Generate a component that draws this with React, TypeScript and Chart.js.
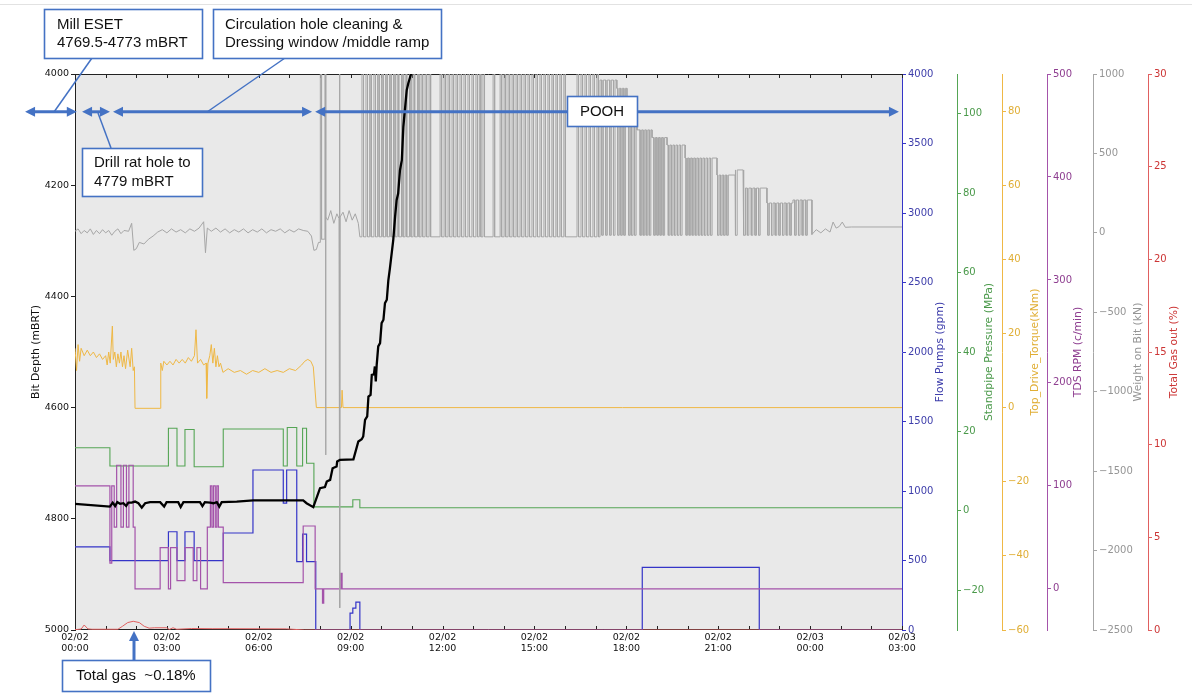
import React, { useEffect, useRef } from 'react';
import { Chart, registerables } from 'chart.js';
Chart.register(...registerables);

// ---------------- axis ticks ----------------
const xTickHours = [0, 3, 6, 9, 12, 15, 18, 21, 24, 27];
const xTickLabels = ['02/02\n00:00', '02/02\n03:00', '02/02\n06:00', '02/02\n09:00', '02/02\n12:00', '02/02\n15:00', '02/02\n18:00', '02/02\n21:00', '02/03\n00:00', '02/03\n03:00'];
const hourTicks = [0, 1, 2, 3, 4, 5, 6, 7, 8, 9, 10, 11, 12, 13, 14, 15, 16, 17, 18, 19, 20, 21, 22, 23, 24, 25, 26, 27];
const depthTicks = [4000, 4200, 4400, 4600, 4800, 5000];
const flowTicks = [0, 500, 1000, 1500, 2000, 2500, 3000, 3500, 4000];
const sppTicks = [-20, 0, 20, 40, 60, 80, 100];
const torqueTicks = [-60, -40, -20, 0, 20, 40, 60, 80];
const rpmTicks = [0, 100, 200, 300, 400, 500];
const wobTicks = [-2500, -2000, -1500, -1000, -500, 0, 500, 1000];
const gasTicks = [0, 5, 10, 15, 20, 25, 30];

// ---------------- series (x = hours after 02/02 00:00) ----------------
const depthT = [0, 1.14, 1.23, 1.31, 1.38, 1.47, 1.58, 1.67, 1.74, 1.85, 1.96, 2.07, 2.18, 2.29, 2.45, 2.78, 2.91, 2.99, 3.37, 3.45, 3.54, 4.08, 4.16, 4.24, 4.41, 4.52, 4.63, 4.71, 4.79, 5.28, 5.82, 7.45, 7.56, 7.78, 8.0, 8.16, 8.22, 8.33, 8.41, 8.54, 8.56, 8.65, 9.09, 9.25, 9.36, 9.41, 9.47, 9.54, 9.58, 9.65, 9.69, 9.76, 9.79, 9.82, 9.85, 9.9, 9.96, 10.01, 10.07, 10.12, 10.18, 10.23, 10.28, 10.39, 10.45, 10.5, 10.55, 10.61, 10.67, 10.72, 10.77, 10.83, 10.88, 10.97, 11.1];
const depthV = [4773, 4778, 4771, 4777, 4770, 4773, 4772, 4777, 4771, 4771, 4769, 4772, 4780, 4772, 4770, 4770, 4778, 4770, 4770, 4779, 4770, 4770, 4777, 4770, 4771, 4772, 4770, 4778, 4770, 4769, 4767, 4767, 4772, 4779, 4745, 4743, 4733, 4730, 4709, 4706, 4697, 4694, 4693, 4661, 4657, 4652, 4622, 4616, 4580, 4577, 4541, 4540, 4526, 4553, 4523, 4490, 4484, 4448, 4442, 4412, 4406, 4371, 4350, 4299, 4257, 4227, 4215, 4173, 4155, 4095, 4065, 4029, 4017, 4000, 3975];

const flowT = [0, 1.14, 3.05, 3.33, 3.59, 3.89, 4.84, 5.81, 6.8, 6.91, 7.24, 7.43, 7.56, 7.86, 8.98, 9.07, 9.17, 9.3, 18.52, 22.34, 27];
const flowV = [598, 499, 707, 499, 707, 499, 698, 1151, 913, 1151, 492, 690, 492, 0, 122, 158, 200, 0, 451, 0, 0];

const sppT = [0, 1.14, 3.05, 3.33, 3.59, 3.89, 4.84, 6.8, 6.93, 7.24, 7.43, 7.56, 7.8, 9.07, 9.3, 27];
const sppV = [15.9, 11.3, 20.8, 11.3, 20.5, 11.1, 20.6, 11.3, 21.0, 11.3, 20.8, 12.0, 1.0, 2.8, 0.8, 0.8];

const torqueT = [0, 0.05, 0.1, 0.15, 0.2, 0.3, 0.4, 0.5, 0.6, 0.7, 0.8, 0.9, 1.0, 1.05, 1.1, 1.15, 1.22, 1.25, 1.3, 1.35, 1.4, 1.45, 1.5, 1.55, 1.6, 1.65, 1.72, 1.8, 1.85, 1.9, 1.94, 1.96, 2.78, 2.8, 2.85, 2.9, 3.0, 3.1, 3.2, 3.3, 3.4, 3.5, 3.6, 3.7, 3.8, 3.9, 3.95, 4.0, 4.1, 4.2, 4.28, 4.3, 4.34, 4.4, 4.45, 4.5, 4.55, 4.6, 4.65, 4.7, 4.75, 4.83, 5.0, 5.2, 5.4, 5.6, 5.8, 6.0, 6.2, 6.4, 6.6, 6.8, 7.0, 7.2, 7.4, 7.5, 7.6, 7.7, 7.78, 7.88, 8.7, 8.72, 8.75, 27];
const torqueV = [16, 10, 17, 12.5, 16, 14, 15.5, 14, 15, 13.5, 14.5, 13, 14, 11.5, 15, 12, 22, 13, 15, 11, 14.5, 12, 15, 11, 14, 10.5, 15.5, 11, 16, 10, 11, -0.2, -0.2, 12, 10, 12.5, 11.5, 12.5, 11.5, 13, 12, 13, 12, 13.5, 12.5, 14, 21, 12, 13, 11.5, 12, 2.5, 12, 14, 17, 12, 16, 11, 14, 11, 12, 9.5, 10.5, 9.5, 10, 9, 10, 9.5, 10.5, 9.5, 10, 9.5, 10.5, 10, 11.5, 12.5, 13, 12.5, 11, 0, 0, 4.7, 0, 0];

const rpmT = [0, 1.14, 1.2, 1.28, 1.36, 1.5, 1.58, 1.68, 1.76, 1.9, 1.96, 2.78, 3.05, 3.12, 3.33, 3.59, 3.86, 3.98, 4.1, 4.32, 4.42, 4.47, 4.52, 4.58, 4.63, 4.68, 4.84, 7.45, 7.84, 8.08, 8.12, 8.68, 8.72, 27];
const rpmV = [100, 25, 100, 60, 120, 60, 120, 60, 120, 60, 0, 40, 0, 40, 8, 40, 8, 40, 0, 60, 100, 60, 100, 60, 100, 60, 6, 61, 0, -14, 0, 15, 0, 0];

// Weight on bit: sampled trace up to 9.3 h
const wobT = [0, 0.1, 0.2, 0.3, 0.4, 0.5, 0.6, 0.7, 0.8, 0.9, 1.0, 1.1, 1.2, 1.3, 1.4, 1.5, 1.6, 1.75, 1.85, 1.92, 2.0, 2.1, 2.25, 2.4, 2.55, 2.7, 2.85, 3.0, 3.15, 3.3, 3.45, 3.6, 3.75, 3.9, 4.05, 4.2, 4.26, 4.32, 4.45, 4.6, 4.75, 4.9, 5.05, 5.2, 5.35, 5.5, 5.65, 5.8, 5.95, 6.1, 6.25, 6.4, 6.55, 6.7, 6.85, 7.0, 7.15, 7.3, 7.45, 7.6, 7.72, 7.8, 7.88, 7.95, 8.0, 8.01, 8.04, 8.05, 8.15, 8.16, 8.18, 8.185, 8.19, 8.25, 8.35, 8.45, 8.55, 8.62, 8.63, 8.645, 8.65, 8.655, 8.75, 8.85, 8.95, 9.05, 9.15, 9.25, 9.3];
const wobV = [10, 25, -5, 15, 0, 25, -10, 15, -5, 20, 0, 15, -15, 10, 25, -5, 15, 10, 60, -110, -100, -60, -70, -40, -20, 5, 20, 0, 25, 5, 20, 0, 25, 10, 30, 70, -125, 30, 10, 30, 5, 25, 0, 20, 5, 25, 0, 20, 5, 25, 0, 20, 10, 25, 0, 20, 5, 25, 15, 10, -20, -110, -105, -60, -60, 1100, 1100, -40, -40, 1100, 1100, -1398, 100, 80, 140, 60, 120, 90, 1100, 1100, -2361, 100, 130, 70, 140, 80, 120, 60, -25];
// tripping section: level the trace rests at, and level of its short excursions
const wobSegT = [9.3, 17.14, 17.69, 18.02, 18.35, 18.84, 19.33, 19.92, 20.96, 21.55, 21.81, 22.59, 23.44];
const wobRestV = [-25, 962, 910, 723, 648, 600, 553, 471, 364, 396, 282, 188, 207];
const wobPeakV = [1100, -15, -15, -15, -15, -15, -15, -15, -15, -15, -15, -15, -15];
const wobPulseT = [9.37, 9.5, 9.62, 9.76, 9.88, 10.01, 10.14, 10.27, 10.4, 10.52, 10.66, 10.78, 10.92, 11.04, 11.18, 11.3, 11.43, 11.56, 11.92, 12.05, 12.18, 12.31, 12.44, 12.57, 12.7, 12.83, 12.96, 13.09, 13.2, 13.32, 13.65, 13.88, 14.01, 14.14, 14.27, 14.4, 14.53, 14.66, 14.79, 14.92, 15.05, 15.18, 15.31, 15.44, 15.57, 15.7, 15.83, 15.96, 16.39, 16.52, 16.65, 16.78, 16.91, 17.04, 17.2, 17.33, 17.46, 17.58, 17.72, 17.82, 17.92, 18.08, 18.17, 18.27, 18.45, 18.55, 18.65, 18.75, 18.9, 19.0, 19.1, 19.2, 19.37, 19.47, 19.57, 19.67, 19.77, 19.95, 20.05, 20.15, 20.25, 20.35, 20.45, 20.55, 20.65, 20.75, 20.98, 21.08, 21.18, 21.28, 21.57, 21.84, 21.95, 22.08, 22.2, 22.32, 22.62, 22.74, 22.86, 22.98, 23.1, 23.22, 23.34, 23.5, 23.62, 23.74, 23.86];
const wobPulseW = 0.05;
const wobTailT = [24.06, 24.2, 24.35, 24.5, 24.65, 24.75, 24.85, 24.95, 25.05, 25.15, 25.35, 27];
const wobTailV = [-10, 20, 0, 25, 5, 68, 30, 40, 68, 35, 37, 37];

const gasT = [0, 0.2, 0.3, 0.42, 0.55, 1.4, 1.55, 1.72, 1.9, 2.1, 2.26, 2.42, 2.6, 3.0, 3.08, 3.2, 3.32, 3.8, 4.5, 5.0, 6.9, 7.5, 27];
const gasV = [0.02, 0.05, 0.27, 0.06, 0.04, 0.04, 0.2, 0.4, 0.47, 0.4, 0.2, 0.1, 0.12, 0.12, 0.03, 0.12, 0.04, 0.08, 0.07, 0.07, 0.06, 0, 0];

// ---------------- build helpers ----------------
const pts = (t: number[], v: number[]) => t.map((x, i) => ({ x, y: v[i] }));

function buildWob() {
  const out: any[] = pts(wobT, wobV);
  let p = 0;
  for (let s = 0; s < wobSegT.length; s++) {
    const start = wobSegT[s];
    const end = s + 1 < wobSegT.length ? wobSegT[s + 1] : wobTailT[0];
    const rest = wobRestV[s];
    const peak = wobPeakV[s];
    out.push({ x: start, y: rest });
    while (p < wobPulseT.length && wobPulseT[p] < end) {
      const t = wobPulseT[p++];
      out.push({ x: t, y: rest }, { x: t, y: peak }, { x: t + wobPulseW, y: peak }, { x: t + wobPulseW, y: rest });
    }
    out.push({ x: end, y: rest });
  }
  return out.concat(pts(wobTailT, wobTailV));
}

const FONT = 'DejaVu Sans';
const C = {
  flow: '#3535c8', flowTxt: '#3d3daa',
  spp: '#55a555', sppTxt: '#4a994a',
  tq: '#efb845', tqTxt: '#e0ae35',
  rpm: '#a453aa', rpmTxt: '#8e3e90',
  wob: '#a6a6a6', wobTxt: '#959595',
  gas: '#e06060', gasTxt: '#cc3535',
};
const fmt = (v: any) => String(v).replace('-', '\u2212');

function rightAxis(min: number, max: number, ticks: number[], line: string, txt: string, width: number, weight: number) {
  return {
    type: 'linear', position: 'right', min, max, weight,
    afterBuildTicks: (s: any) => { s.ticks = ticks.map((v) => ({ value: v })); },
    afterFit: (s: any) => { s.width = width; },
    grid: { drawOnChartArea: false, color: line, tickLength: 4, tickWidth: 1 },
    border: { display: true, color: line, width: 1 },
    ticks: { color: txt, font: { family: FONT, size: 10 }, padding: 2, autoSkip: false, callback: fmt },
    title: { display: false },
  };
}

const axisTitles = [
  { id: 'yFlow', text: 'Flow Pumps (gpm)', off: 38, color: C.flowTxt },
  { id: 'ySpp', text: 'Standpipe Pressure (MPa)', off: 32, color: C.sppTxt },
  { id: 'yTq', text: 'Top_Drive_Torque(kNm)', off: 33, color: C.tqTxt },
  { id: 'yRpm', text: 'TDS RPM (c/min)', off: 31, color: C.rpmTxt },
  { id: 'yWob', text: 'Weight on Bit (kN)', off: 45, color: C.wobTxt },
  { id: 'yGas', text: 'Total Gas out (%)', off: 26, color: C.gasTxt },
];

// annotation callouts (pixel boxes)
const BLUE = '#4472c4';
const boxes = [
  { x: 44, y: 9, w: 158, h: 49, lines: ['Mill ESET', '4769.5-4773 mBRT'], tx: 57 },
  { x: 213, y: 9, w: 228, h: 49, lines: ['Circulation hole cleaning &', 'Dressing window /middle ramp'], tx: 225 },
  { x: 82, y: 148, w: 120, h: 48, lines: ['Drill rat hole to', '4779 mBRT'], tx: 94 },
  { x: 567, y: 96, w: 70, h: 30, lines: ['POOH'], tx: -1 },
  { x: 62, y: 660, w: 148, h: 31, lines: ['Total gas  ~0.18%'], tx: 76 },
];
const phaseArrows = [[-1.63, 0.06], [0.23, 1.14], [1.24, 7.74], [7.84, 26.9]];
const phaseDepth = 4068;
const leaders = [[92, 58, 54, 112], [285, 58, 207, 112], [111, 148, 98, 113]];

function head(ctx: any, tx: number, ty: number, dx: number, dy: number) {
  const len = 10, half = 5;
  const bx = tx - dx * len, by = ty - dy * len;
  ctx.beginPath();
  ctx.moveTo(tx, ty);
  ctx.lineTo(bx - dy * half, by + dx * half);
  ctx.lineTo(bx + dy * half, by - dx * half);
  ctx.closePath();
  ctx.fill();
}

const decor = {
  id: 'decor',
  beforeDraw(chart: any) {
    const { ctx, chartArea: a } = chart;
    ctx.save();
    ctx.fillStyle = '#ffffff';
    ctx.fillRect(0, 0, chart.width, chart.height);
    ctx.strokeStyle = '#e2e2e2';
    ctx.lineWidth = 1;
    ctx.beginPath(); ctx.moveTo(0, 4.5); ctx.lineTo(chart.width, 4.5); ctx.stroke();
    ctx.fillStyle = '#e9e9e9';
    ctx.fillRect(a.left, a.top, a.right - a.left, a.bottom - a.top);
    ctx.restore();
  },
  beforeDatasetsDraw(chart: any) {
    const { ctx, chartArea: a } = chart;
    const xs = chart.scales.x;
    ctx.save();
    ctx.strokeStyle = '#222';
    ctx.lineWidth = 1;
    ctx.beginPath();
    ctx.moveTo(a.left, a.top + 0.5); ctx.lineTo(a.right, a.top + 0.5);
    ctx.moveTo(a.left, a.bottom - 0.5); ctx.lineTo(a.right, a.bottom - 0.5);
    for (const h of hourTicks) {
      const px = Math.round(xs.getPixelForValue(h)) + 0.5;
      ctx.moveTo(px, a.top); ctx.lineTo(px, a.top + 4);
      ctx.moveTo(px, a.bottom); ctx.lineTo(px, a.bottom - 4);
    }
    ctx.stroke();
    ctx.restore();
  },
  afterDraw(chart: any) {
    const { ctx, chartArea: a } = chart;
    const xs = chart.scales.x, ys = chart.scales.y;
    ctx.save();
    // axis titles
    ctx.font = `10.8px "${FONT}"`;
    ctx.textAlign = 'center';
    ctx.textBaseline = 'middle';
    const cy = (a.top + a.bottom) / 2;
    const drawTitle = (x: number, text: string, color: string) => {
      ctx.save(); ctx.translate(x, cy); ctx.rotate(-Math.PI / 2);
      ctx.fillStyle = color; ctx.fillText(text, 0, 0); ctx.restore();
    };
    drawTitle(36, 'Bit Depth (mBRT)', '#111');
    for (const t of axisTitles) drawTitle(chart.scales[t.id].left + t.off, t.text, t.color);

    // phase arrows
    ctx.strokeStyle = BLUE; ctx.fillStyle = BLUE; ctx.lineWidth = 3;
    const ay = ys.getPixelForValue(phaseDepth);
    for (const [h1, h2] of phaseArrows) {
      const x1 = xs.getPixelForValue(h1), x2 = xs.getPixelForValue(h2);
      ctx.beginPath(); ctx.moveTo(x1 + 6, ay); ctx.lineTo(x2 - 6, ay); ctx.stroke();
      head(ctx, x1, ay, -1, 0); head(ctx, x2, ay, 1, 0);
    }
    // total gas arrow
    ctx.beginPath(); ctx.moveTo(134, 660); ctx.lineTo(134, 638); ctx.stroke();
    head(ctx, 134, 631, 0, -1);
    // leaders
    ctx.lineWidth = 1.5;
    for (const [x1, y1, x2, y2] of leaders) {
      ctx.beginPath(); ctx.moveTo(x1, y1); ctx.lineTo(x2, y2); ctx.stroke();
    }
    // boxes
    ctx.font = '15px "Liberation Sans", Arial, sans-serif';
    for (const b of boxes) {
      ctx.fillStyle = '#ffffff';
      ctx.fillRect(b.x, b.y, b.w, b.h);
      ctx.strokeStyle = BLUE; ctx.lineWidth = 1.6;
      ctx.strokeRect(b.x + 0.5, b.y + 0.5, b.w, b.h);
      ctx.fillStyle = '#111';
      const mid = b.y + b.h / 2 + 0.5;
      const n = b.lines.length;
      b.lines.forEach((ln, i) => {
        const y = mid + (i - (n - 1) / 2) * 18.5;
        if (b.tx < 0) { ctx.textAlign = 'center'; ctx.fillText(ln, b.x + b.w / 2, y); }
        else { ctx.textAlign = 'left'; ctx.fillText(ln, b.tx, y); }
      });
    }
    ctx.restore();
  },
};

export default function App() {
  const ref = useRef<HTMLCanvasElement>(null);
  useEffect(() => {
    document.body.style.margin = '0';
    const line = (label: string, data: any[], axis: string, color: string, width: number, stepped = false) => ({
      label, data, yAxisID: axis, borderColor: color, borderWidth: width, pointRadius: 0, stepped, tension: 0, fill: false,
    });
    const chart = new Chart(ref.current as HTMLCanvasElement, {
      type: 'line',
      data: {
        datasets: [
          line('Bit Depth', pts(depthT, depthV), 'y', '#000000', 2.3),
          line('Total Gas', pts(gasT, gasV), 'yGas', C.gas, 1),
          line('WOB', buildWob(), 'yWob', C.wob, 1),
          line('TDS RPM', pts(rpmT, rpmV), 'yRpm', C.rpm, 1.2, true),
          line('Torque', pts(torqueT, torqueV), 'yTq', C.tq, 1),
          line('SPP', pts(sppT, sppV), 'ySpp', C.spp, 1.1, true),
          line('Flow', pts(flowT, flowV), 'yFlow', C.flow, 1.2, true),
        ] as any,
      },
      options: {
        animation: false,
        responsive: true,
        maintainAspectRatio: false,
        events: [],
        layout: { padding: { top: 74, left: 0, right: 0, bottom: 0 } },
        plugins: { legend: { display: false }, tooltip: { enabled: false } },
        scales: {
          x: {
            type: 'linear', position: 'bottom', min: 0, max: 27,
            afterBuildTicks: (s: any) => { s.ticks = xTickHours.map((v) => ({ value: v })); },
            afterFit: (s: any) => { s.height = 67; },
            grid: { display: false },
            border: { display: false },
            ticks: {
              autoSkip: false, maxRotation: 0, color: '#111', padding: -6,
              font: { family: FONT, size: 9.5, lineHeight: 1.15 },
              callback: (v: any) => { const i = xTickHours.indexOf(Number(v)); return i >= 0 ? xTickLabels[i].split('\n') : ''; },
            },
          },
          y: {
            type: 'linear', position: 'left', min: 4000, max: 5000, reverse: true,
            afterBuildTicks: (s: any) => { s.ticks = depthTicks.map((v) => ({ value: v })); },
            afterFit: (s: any) => { s.width = 75; },
            grid: { drawOnChartArea: false, color: '#222', tickLength: 4 },
            border: { display: true, color: '#222', width: 1 },
            ticks: { color: '#111', font: { family: FONT, size: 9.5 }, padding: 2, autoSkip: false, callback: fmt },
          },
          yFlow: rightAxis(0, 4000, flowTicks, C.flow, C.flowTxt, 55, 1),
          ySpp: rightAxis(-30, 110, sppTicks, C.spp, C.sppTxt, 45, 2),
          yTq: rightAxis(-60, 90, torqueTicks, C.tq, C.tqTxt, 45, 3),
          yRpm: rightAxis(-40, 500, rpmTicks, C.rpm, C.rpmTxt, 46, 4),
          yWob: rightAxis(-2500, 1000, wobTicks, C.wob, C.wobTxt, 55, 5),
          yGas: rightAxis(0, 30, gasTicks, C.gas, C.gasTxt, 44, 6),
        } as any,
      },
      plugins: [decor],
    });
    return () => chart.destroy();
  }, []);
  return (
    <div style={{ position: 'relative', width: 1192, height: 697 }}>
      <canvas ref={ref} />
    </div>
  );
}
